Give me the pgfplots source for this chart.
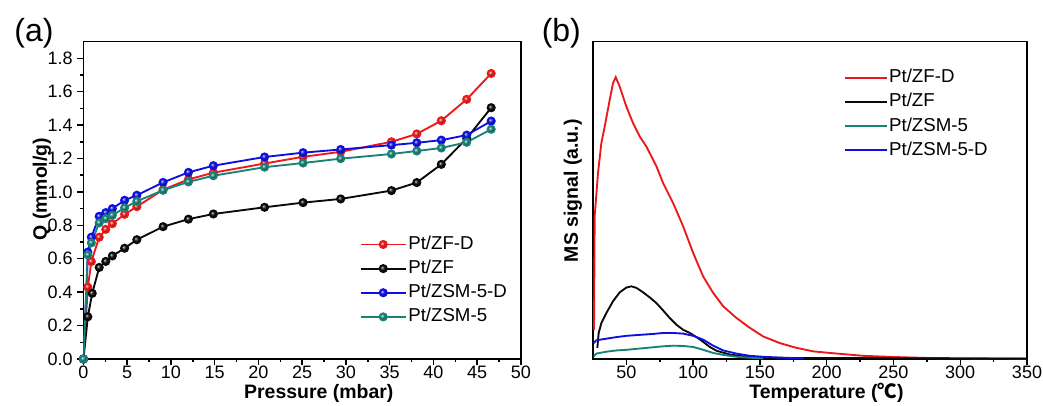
\documentclass[border=0pt]{standalone}
\usepackage{fontspec}
\setmainfont{Liberation Sans}
\newfontfamily\cjk{Noto Sans CJK SC}
\usepackage{pgfplots}
\pgfplotsset{compat=1.18}
\definecolor{mred}{RGB}{235,25,25}
\definecolor{mblack}{RGB}{10,10,10}
\definecolor{mblue}{RGB}{15,15,225}
\definecolor{mteal}{RGB}{25,130,120}
\pgfplotsset{
  common/.style={
    scale only axis, anchor=south west,
    height=238.1pt,
    axis line style={line width=1.1pt},
    tick style={line width=1.1pt, black},
    major tick length=4.5pt, minor tick length=2.4pt,
    tick align=outside,
    xtick pos=bottom, ytick pos=left,
    /pgf/number format/assume math mode=true,
    tick label style={font=\fontsize{13.5}{15}\selectfont},
    xticklabel style={yshift=2.6pt},
    every axis x label/.style={at={(rel axis cs:0.538,0)}, yshift=-25.5pt, anchor=center, font=\fontsize{14.6}{16}\selectfont\bfseries},
    legend style={draw=none, fill=none, inner sep=0pt, font=\fontsize{14}{16}\selectfont,
      row sep=2.2pt, nodes={inner sep=1.2pt, text height=10.5pt, text depth=3pt}},
    legend cell align=left,
  },
  balls/.style={line width=1.4pt, color=#1, mark=ball, mark size=2.7pt, mark options={ball color=#1}},
}
\begin{document}
\begin{tikzpicture}
\useasboundingbox (0,0) rectangle (782.25pt,303.75pt);
\node[font=\fontsize{24}{28}\selectfont] at (25.5pt,278.5pt) {(a)};
\node[font=\fontsize{24}{28}\selectfont] at (421pt,278.5pt) {(b)};
\begin{axis}[common,
  at={(62.6pt,34.5pt)}, width=328.1pt,
  xmin=0, xmax=50, ymin=0, ymax=1.9,
  xtick={0,5,...,50}, ytick={0,0.2,...,1.8},
  minor x tick num=1, minor y tick num=1,
  yticklabel style={/pgf/number format/.cd, fixed, fixed zerofill, precision=1},
  xlabel={Pressure (mbar)}, ylabel={Q (mmol/g)},
  every axis y label/.style={at={(rel axis cs:0,0.535)}, xshift=-31.1pt, rotate=90, anchor=center, font=\fontsize{14.6}{16}\selectfont\bfseries},
  legend style={at={(rel axis cs:0.631,0.395)}, anchor=north west},
  legend image code/.code={\draw[#1, mark repeat=2, mark phase=2] plot coordinates {(0pt,0pt) (16.9pt,0pt) (33.8pt,0pt)};},
]
\addplot[balls=mred] coordinates {(0,0) (0.5,0.43) (0.9,0.583) (1.8,0.729) (2.55,0.776) (3.3,0.81) (4.7,0.866) (6.1,0.912) (9.1,1.013) (12.0,1.075) (14.85,1.115) (20.7,1.17) (25.1,1.21) (29.4,1.24) (35.2,1.30) (38.1,1.347) (40.9,1.426) (43.8,1.554) (46.6,1.709)};
\addlegendentry{Pt/ZF-D}
\addplot[balls=mblack] coordinates {(0,0) (0.5,0.253) (1.0,0.393) (1.8,0.548) (2.55,0.584) (3.3,0.617) (4.7,0.663) (6.1,0.714) (9.1,0.792) (12.0,0.837) (14.85,0.868) (20.7,0.908) (25.1,0.936) (29.4,0.958) (35.2,1.008) (38.1,1.056) (40.9,1.165) (43.8,1.32) (46.6,1.504)};
\addlegendentry{Pt/ZF}
\addplot[balls=mblue] coordinates {(0,0) (0.5,0.64) (0.9,0.729) (1.8,0.854) (2.55,0.876) (3.3,0.9) (4.7,0.95) (6.1,0.98) (9.1,1.057) (12.0,1.117) (14.85,1.157) (20.7,1.209) (25.1,1.235) (29.4,1.254) (35.2,1.28) (38.1,1.294) (40.9,1.31) (43.8,1.34) (46.6,1.424)};
\addlegendentry{Pt/ZSM-5-D}
\addplot[balls=mteal] coordinates {(0,0) (0.5,0.623) (0.9,0.695) (1.8,0.815) (2.55,0.84) (3.3,0.86) (4.7,0.905) (6.1,0.944) (9.1,1.01) (12.0,1.06) (14.85,1.097) (20.7,1.148) (25.1,1.173) (29.4,1.199) (35.2,1.227) (38.1,1.245) (40.9,1.263) (43.8,1.297) (46.6,1.375)};
\addlegendentry{Pt/ZSM-5}
\end{axis}
\begin{axis}[common,
  at={(444.75pt,34.5pt)}, width=325.5pt,
  xmin=25, xmax=350, ymin=0, ymax=1,
  xtick={50,100,...,350}, ytick=\empty,
  minor x tick num=1,
  xlabel={Temperature ({\cjk ℃})}, ylabel={MS signal (a.u.)},
  every axis y label/.style={at={(rel axis cs:0,0.53)}, xshift=-15pt, rotate=90, anchor=center, font=\fontsize{14.6}{16}\selectfont\bfseries},
  legend style={at={(rel axis cs:0.577,0.92)}, anchor=north west},
  legend image code/.code={\draw[#1] (0pt,0pt) -- (31.5pt,0pt);},
  every axis plot/.append style={line width=1.4pt},
]
\addplot[mred] coordinates {(25.75,0.092) (26.25,0.449) (28.75,0.586) (31.25,0.680) (33.75,0.732) (37.5,0.816) (40,0.869) (42,0.888) (45,0.858) (50,0.795) (55,0.743) (60,0.701) (65,0.669) (72.5,0.607) (77.5,0.554) (85,0.491) (92.5,0.418) (100,0.334) (107.5,0.260) (115,0.208) (122.5,0.166) (132.5,0.129) (142.5,0.098) (152.5,0.071) (165,0.050) (177.5,0.035) (190,0.024) (202.5,0.019) (227.5,0.010) (252.5,0.006) (277.5,0.003) (350,0.001)};
\addlegendentry{Pt/ZF-D}
\addplot[mblack] coordinates {(28.25,0.035) (29.25,0.082) (31.25,0.113) (35,0.145) (40,0.182) (45,0.210) (50,0.225) (53.75,0.229) (57.5,0.224) (62.5,0.210) (67.5,0.194) (72.5,0.176) (77.5,0.153) (82.5,0.129) (87.5,0.108) (92.5,0.092) (97.5,0.082) (102.5,0.069) (107.5,0.054) (112.5,0.038) (117.5,0.026) (127.5,0.014) (140,0.007) (152.5,0.004) (177.5,0.003) (227.5,0.003) (277.5,0.002) (350,0.001)};
\addlegendentry{Pt/ZF}
\addplot[mteal] coordinates {(25.5,0.008) (27.5,0.017) (35,0.023) (42.5,0.027) (50,0.029) (60,0.033) (70,0.037) (77.5,0.040) (85,0.042) (92.5,0.041) (100,0.038) (107.5,0.029) (115,0.019) (122.5,0.013) (132.5,0.007) (142.5,0.004) (152.5,0.002)};
\addlegendentry{Pt/ZSM-5}
\addplot[mblue] coordinates {(25.5,0.050) (27.5,0.059) (35,0.064) (42.5,0.069) (50,0.073) (60,0.076) (70,0.079) (77.5,0.082) (85,0.082) (92.5,0.080) (100,0.073) (107.5,0.061) (115,0.042) (122.5,0.027) (132.5,0.017) (142.5,0.010) (152.5,0.007) (167.5,0.004) (182.5,0.002)};
\addlegendentry{Pt/ZSM-5-D}
\end{axis}
\end{tikzpicture}
\end{document}
